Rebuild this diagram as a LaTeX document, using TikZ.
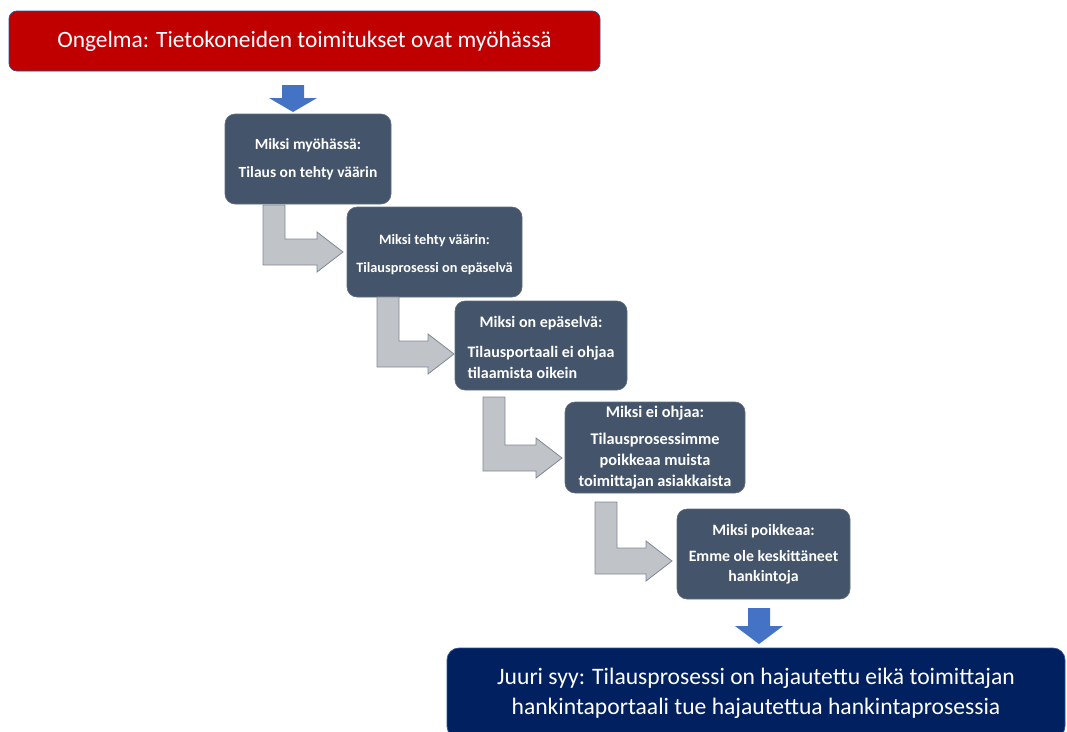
\documentclass[tikz,border=0pt]{standalone}
\usepackage{fontspec}
\setmainfont{Carlito}
\definecolor{problemred}{HTML}{C00000}
\definecolor{problemedge}{HTML}{2F528F}
\definecolor{slate}{HTML}{44546A}
\definecolor{rootnavy}{HTML}{002060}
\definecolor{flowblue}{HTML}{4472C4}
\definecolor{elbowfill}{HTML}{C0C3C7}
\definecolor{elbowedge}{HTML}{7F8796}

% downward block arrow: centre x, top y, head base y, tip y
\newcommand\downblock[4]{%
  \fill[flowblue] (#1-11,#2) -- (#1+11,#2) -- (#1+11,#3) -- (#1+24,#3)
    -- (#1,#4) -- (#1-24,#3) -- (#1-11,#3) -- cycle;}
% bent (down then right) block arrow: bar left x, top y, tip x, tip y
\newcommand\elbowblock[4]{%
  \draw[elbowarrow] (#1,#2) -- (#1+22,#2) -- (#1+22,#4-13) -- (#3-26,#4-13)
    -- (#3-26,#4-20) -- (#3,#4) -- (#3-26,#4+20) -- (#3-26,#4+13)
    -- (#1,#4+13) -- cycle;}

\begin{document}
\begin{tikzpicture}[x=1pt,y=-1pt,
  whybox/.style={rectangle, rounded corners=10pt, fill=slate,
    draw=slate!85!white, line width=0.6pt, text=white, align=center,
    inner sep=0pt, font=\bfseries},
  problembox/.style={rectangle, rounded corners=8pt, fill=problemred,
    draw=problemedge, line width=0.8pt, text=white, inner sep=0pt,
    font=\fontsize{23.4}{28}\selectfont},
  rootbox/.style={rectangle, rounded corners=12pt, fill=rootnavy,
    draw=problemedge, line width=0.8pt, text=white, align=center,
    inner sep=0pt, font=\fontsize{23.6}{30}\selectfont},
  elbowarrow/.style={fill=elbowfill, draw=elbowedge, line width=0.8pt,
    line join=miter}]
\useasboundingbox (0,0) rectangle (1067,731);

% problem statement
\node[problembox, minimum width=591pt, minimum height=60pt] (problem)
  at (304.5,41) {Ongelma: Tietokoneiden toimitukset ovat myöhässä};

% chain of "why" questions
\node[whybox, minimum width=166pt, minimum height=90pt,
  font=\bfseries\fontsize{15.5}{19}\selectfont] (why1) at (308,159)
  {Miksi myöhässä:\\[9pt]Tilaus on tehty väärin};
\node[whybox, minimum width=175pt, minimum height=90pt,
  font=\bfseries\fontsize{14.3}{17}\selectfont] (why2) at (434.5,252)
  {\rule{0pt}{15.5pt}Miksi tehty väärin:\\[10.5pt]Tilausprosessi on epäselvä};
\node[whybox, minimum width=172pt, minimum height=89pt,
  font=\bfseries\fontsize{16}{21}\selectfont] (why3) at (541,345.5)
  {\rule{0pt}{17.5pt}Miksi on epäselvä:\\[9pt]Tilausportaali ei ohjaa\\
   \rlap{tilaamista oikein}\phantom{Tilausportaali ei ohjaa}};
\node[whybox, minimum width=180pt, minimum height=91pt,
  font=\bfseries\fontsize{16.3}{21}\selectfont] (why4) at (655,447.5)
  {Miksi ei ohjaa:\\[6pt]Tilausprosessimme\\poikkeaa muista\\toimittajan asiakkaista};
\node[whybox, minimum width=173pt, minimum height=90pt,
  font=\bfseries\fontsize{15.8}{20}\selectfont] (why5) at (763.5,554)
  {Miksi poikkeaa:\\[6pt]Emme ole keskittäneet\\hankintoja};

% root cause (runs off the lower edge)
\node[rootbox, minimum width=618pt, minimum height=90pt] (root) at (756,693)
  {Juuri syy: Tilausprosessi on hajautettu eikä toimittajan\\
   hankintaportaali tue hajautettua hankintaprosessia};

% arrows
\downblock{293}{85}{98}{112}
\elbowblock{263}{205}{343}{252}
\elbowblock{377}{297}{454}{354}
\elbowblock{483}{397}{562}{458}
\elbowblock{595}{502}{672}{561}
\downblock{759}{608}{626}{644}
\end{tikzpicture}
\end{document}
